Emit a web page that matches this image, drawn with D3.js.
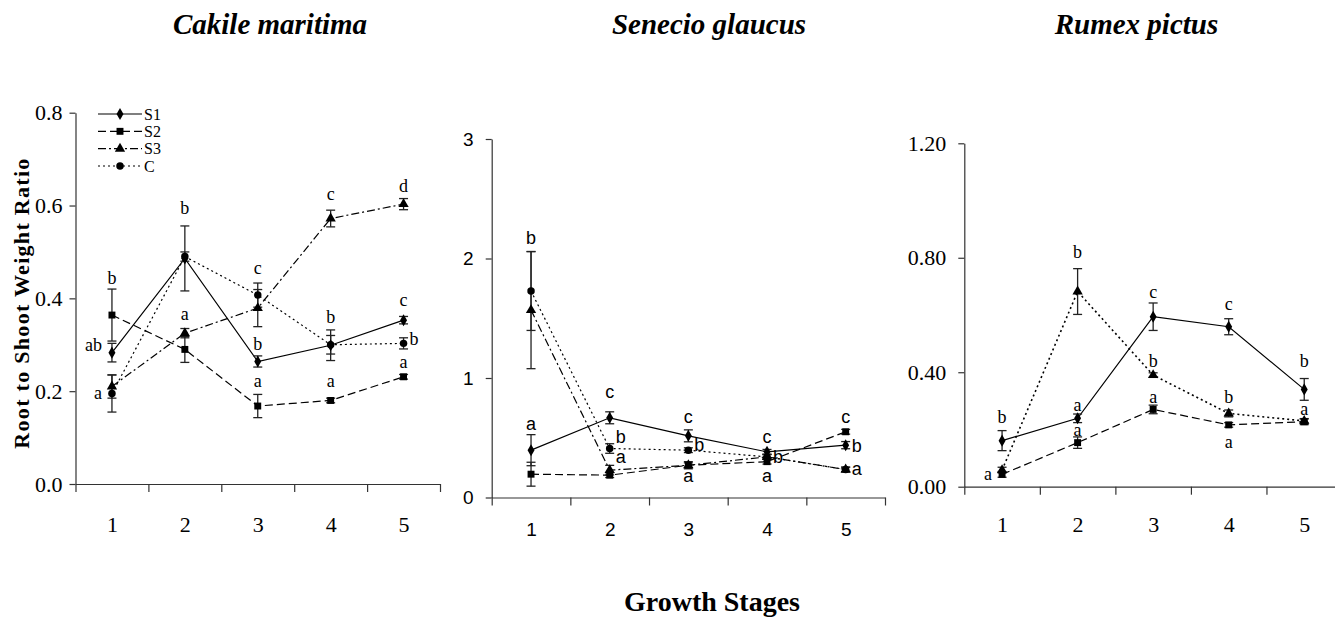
<!DOCTYPE html>
<html>
<head>
<meta charset="utf-8">
<script src="https://cdn.jsdelivr.net/npm/d3@7"></script>
<style>
  body { margin: 0; background: #fff; }
  svg { display: block; }
</style>
</head>
<body>
<div id="chart"></div>
<script>
// growth stages on the x axis and the four treatments
const stages = [1, 2, 3, 4, 5];
const seriesNames = ["S1", "S2", "S3", "C"];

// Cakile maritima: means and error values per stage
const cakileS1 = [0.283, 0.486, 0.264, 0.299, 0.353];
const cakileS1Err = [0.02, 0.07, 0.012, 0.033, 0.008];
const cakileS2 = [0.364, 0.290, 0.168, 0.180, 0.231];
const cakileS2Err = [0.056, 0.028, 0.025, 0.005, 0.005];
const cakileS3 = [0.210, 0.325, 0.379, 0.572, 0.603];
const cakileS3Err = [0.025, 0.01, 0.04, 0.018, 0.012];
const cakileC = [0.195, 0.490, 0.407, 0.300, 0.303];
const cakileCErr = [0.04, 0.01, 0.026, 0.02, 0.012];
const cakileTicks = [0, 0.2, 0.4, 0.6, 0.8];
// [stage, value, letter, side]
const cakileLabels = [
  [1, 0.445, "b", "c"], [1, 0.30, "ab", "l"], [1, 0.197, "a", "l"],
  [2, 0.596, "b", "c"], [2, 0.368, "a", "c"],
  [3, 0.465, "c", "c"], [3, 0.303, "b", "c"], [3, 0.222, "a", "c"],
  [4, 0.625, "c", "c"], [4, 0.36, "b", "c"], [4, 0.222, "a", "c"],
  [5, 0.642, "d", "c"], [5, 0.398, "c", "c"], [5, 0.312, "b", "r"], [5, 0.264, "a", "c"]
];

// Senecio glaucus
const senecioS1 = [0.396, 0.667, 0.516, 0.382, 0.438];
const senecioS1Err = [0.13, 0.05, 0.05, 0.02, 0.03];
const senecioS2 = [0.195, 0.187, 0.270, 0.300, 0.550];
const senecioS2Err = [0.10, 0.02, 0.03, 0.02, 0.02];
const senecioS3 = [1.568, 0.229, 0.270, 0.340, 0.234];
const senecioS3Err = [0.49, 0.04, 0.02, 0.02, 0.02];
const senecioC = [1.728, 0.410, 0.396, 0.340, 0.234];
const senecioCErr = [0.33, 0.04, 0.02, 0.02, 0.02];
const senecioTicks = [0, 1, 2, 3];
const senecioLabels = [
  [1, 2.17, "b", "c"], [1, 0.62, "a", "c"],
  [2, 0.885, "c", "c"], [2, 0.508, "b", "r"], [2, 0.34, "a", "r"],
  [3, 0.68, "c", "c"], [3, 0.438, "b", "r"], [3, 0.18, "a", "c"],
  [4, 0.508, "c", "c"], [4, 0.34, "b", "r"], [4, 0.18, "a", "c"],
  [5, 0.68, "c", "c"], [5, 0.43, "b", "r"], [5, 0.243, "a", "r"]
];

// Rumex pictus (no C series shown)
const rumexS1 = [0.161, 0.239, 0.594, 0.559, 0.340];
const rumexS1Err = [0.035, 0.015, 0.048, 0.028, 0.038];
const rumexS2 = [0.043, 0.154, 0.270, 0.216, 0.227];
const rumexS2Err = [0.01, 0.02, 0.015, 0.008, 0.01];
const rumexS3 = [0.058, 0.682, 0.390, 0.256, 0.230];
const rumexS3Err = [0.01, 0.08, 0.008, 0.012, 0.008];
const rumexTicks = [0, 0.4, 0.8, 1.2];
const rumexLabels = [
  [1, 0.245, "b", "c"], [1, 0.047, "a", "l"],
  [2, 0.821, "b", "c"], [2, 0.285, "a", "c"], [2, 0.198, "a", "c"],
  [3, 0.68, "c", "c"], [3, 0.44, "b", "c"], [3, 0.315, "a", "c"],
  [4, 0.64, "c", "c"], [4, 0.315, "b", "c"], [4, 0.157, "a", "c"],
  [5, 0.44, "b", "c"], [5, 0.274, "a", "c"]
];

const serif = "'Liberation Serif', 'Times New Roman', serif";
const sans = "'Liberation Sans', Arial, sans-serif";

// marker and dash style of every treatment
const styles = {
  S1: { symbol: d3.symbolDiamond, size: 42, dash: null },
  S2: { symbol: d3.symbolSquare, size: 48, dash: "8,4" },
  S3: { symbol: d3.symbolTriangle, size: 46, dash: "8,3,2,3" },
  C: { symbol: d3.symbolCircle, size: 44, dash: "2,3" }
};

const panels = [
  {
    title: "Cakile maritima", titleX: 270, x0: 75.5, x1: 440, yTop: 112.7, yBottom: 484,
    yMax: 0.8, ticks: cakileTicks, format: d3.format(".1f"), font: serif, tickFont: 22,
    xPad: 32, yPad: 7, labelFont: 18,
    series: [
      { name: "S1", values: cakileS1, err: cakileS1Err },
      { name: "S2", values: cakileS2, err: cakileS2Err },
      { name: "S3", values: cakileS3, err: cakileS3Err },
      { name: "C", values: cakileC, err: cakileCErr }
    ],
    labels: cakileLabels, legend: true
  },
  {
    title: "Senecio glaucus", titleX: 709, x0: 491.7, x1: 885, yTop: 139, yBottom: 497.5,
    yMax: 3, ticks: senecioTicks, format: d3.format("d"), font: sans, tickFont: 19,
    xPad: 25, yPad: 12, labelFont: 18,
    series: [
      { name: "S1", values: senecioS1, err: senecioS1Err },
      { name: "S2", values: senecioS2, err: senecioS2Err },
      { name: "S3", values: senecioS3, err: senecioS3Err },
      { name: "C", values: senecioC, err: senecioCErr }
    ],
    labels: senecioLabels
  },
  {
    title: "Rumex pictus", titleX: 1136.5, x0: 964.3, x1: 1342, yTop: 143.3, yBottom: 486.7,
    yMax: 1.2, ticks: rumexTicks, format: d3.format(".2f"), font: serif, tickFont: 22,
    xPad: 30, yPad: 12, labelFont: 18,
    series: [
      { name: "S1", values: rumexS1, err: rumexS1Err },
      { name: "S2", values: rumexS2, err: rumexS2Err },
      { name: "S3", values: rumexS3, err: rumexS3Err, dash: "2,3", width: 1.6 }
    ],
    labels: rumexLabels
  }
];

const svg = d3.select("#chart")
  .append("svg")
  .attr("width", 1335)
  .attr("height", 619);

panels.forEach(p => drawPanel(p));

// y axis title
svg.append("text")
  .attr("transform", "translate(29,303) rotate(-90)")
  .attr("text-anchor", "middle")
  .style("font-family", serif)
  .style("font-weight", "bold")
  .style("font-size", "22px")
  .style("letter-spacing", "1.3px")
  .text("Root to Shoot Weight Ratio");

// x axis title
svg.append("text")
  .attr("x", 712)
  .attr("y", 611)
  .attr("text-anchor", "middle")
  .style("font-family", serif)
  .style("font-weight", "bold")
  .style("font-size", "28px")
  .text("Growth Stages");

function drawPanel(p) {
  const x = d3.scaleLinear().domain([0.5, 5.5]).range([p.x0, p.x1]);
  const y = d3.scaleLinear().domain([0, p.yMax]).range([p.yBottom, p.yTop]);
  const g = svg.append("g");

  // title
  g.append("text")
    .attr("x", p.titleX)
    .attr("y", 34)
    .attr("text-anchor", "middle")
    .style("font-family", serif)
    .style("font-weight", "bold")
    .style("font-style", "italic")
    .style("font-size", "29px")
    .text(p.title);

  // x axis: ticks on the category edges, labels in the middle
  const xEdges = g.append("g")
    .attr("transform", `translate(0,${p.yBottom})`)
    .call(d3.axisBottom(x)
      .tickValues(d3.range(0.5, 6, 1))
      .tickFormat("")
      .tickSize(8)
      .tickSizeOuter(0));
  const xLabels = g.append("g")
    .attr("transform", `translate(0,${p.yBottom})`)
    .call(d3.axisBottom(x)
      .tickValues(stages)
      .tickSize(0)
      .tickPadding(p.xPad)
      .tickFormat(d3.format("d")));
  xLabels.select(".domain").remove();

  const yAxis = g.append("g")
    .attr("transform", `translate(${p.x0},0)`)
    .call(d3.axisLeft(y)
      .tickValues(p.ticks)
      .tickFormat(p.format)
      .tickSize(6)
      .tickPadding(p.yPad)
      .tickSizeOuter(0));

  [xEdges, xLabels, yAxis].forEach(a => {
    a.selectAll("path, line").attr("stroke", "#333").attr("stroke-width", 1.2);
    a.selectAll("text")
      .attr("fill", "#000")
      .style("font-family", p.font)
      .style("font-size", p.tickFont + "px");
  });

  const line = d3.line()
    .x((d, i) => x(stages[i]))
    .y(d => y(d));

  // lines
  p.series.forEach(s => {
    const st = styles[s.name];
    g.append("path")
      .datum(s.values)
      .attr("d", line)
      .attr("fill", "none")
      .attr("stroke", "#000")
      .attr("stroke-width", s.width || 1.2)
      .attr("stroke-dasharray", s.dash || st.dash);
  });

  // error bars
  p.series.forEach(s => {
    const bars = g.append("g")
      .selectAll("g")
      .data(s.values.map((v, i) => ({ stage: stages[i], v: v, e: s.err[i] })))
      .join("g")
      .attr("stroke", "#222")
      .attr("stroke-width", 1.3);
    bars.append("line")
      .attr("x1", d => x(d.stage)).attr("x2", d => x(d.stage))
      .attr("y1", d => y(d.v - d.e)).attr("y2", d => y(d.v + d.e));
    bars.append("line")
      .attr("x1", d => x(d.stage) - 4.5).attr("x2", d => x(d.stage) + 4.5)
      .attr("y1", d => y(d.v + d.e)).attr("y2", d => y(d.v + d.e));
    bars.append("line")
      .attr("x1", d => x(d.stage) - 4.5).attr("x2", d => x(d.stage) + 4.5)
      .attr("y1", d => y(d.v - d.e)).attr("y2", d => y(d.v - d.e));
  });

  // markers
  p.series.forEach(s => {
    const st = styles[s.name];
    g.append("g")
      .selectAll("path")
      .data(s.values)
      .join("path")
      .attr("transform", (d, i) => `translate(${x(stages[i])},${y(d)})`)
      .attr("d", d3.symbol().type(st.symbol).size(st.size))
      .attr("fill", "#000");
  });

  // significance letters
  g.append("g")
    .selectAll("text")
    .data(p.labels)
    .join("text")
    .attr("x", d => x(d[0]) + (d[3] === "l" ? -10 : d[3] === "r" ? 6 : 0))
    .attr("y", d => y(d[1]))
    .attr("dy", "0.35em")
    .attr("text-anchor", d => d[3] === "l" ? "end" : d[3] === "r" ? "start" : "middle")
    .style("font-family", p.font)
    .style("font-size", p.labelFont + "px")
    .text(d => d[2]);

  if (p.legend) drawLegend(g);
}

function drawLegend(g) {
  const rowY = d3.scalePoint().domain(seriesNames).range([114, 166]);
  const rows = g.append("g")
    .selectAll("g")
    .data(seriesNames)
    .join("g")
    .attr("transform", d => `translate(0,${rowY(d)})`);
  rows.append("line")
    .attr("x1", 98).attr("x2", 142)
    .attr("stroke", "#000")
    .attr("stroke-width", 1.2)
    .attr("stroke-dasharray", d => styles[d].dash);
  rows.append("path")
    .attr("transform", "translate(120,0)")
    .attr("d", d => d3.symbol().type(styles[d].symbol).size(styles[d].size)())
    .attr("fill", "#000");
  rows.append("text")
    .attr("x", 144)
    .attr("dy", "0.35em")
    .style("font-family", serif)
    .style("font-size", "16px")
    .text(d => d);
}
</script>
</body>
</html>
